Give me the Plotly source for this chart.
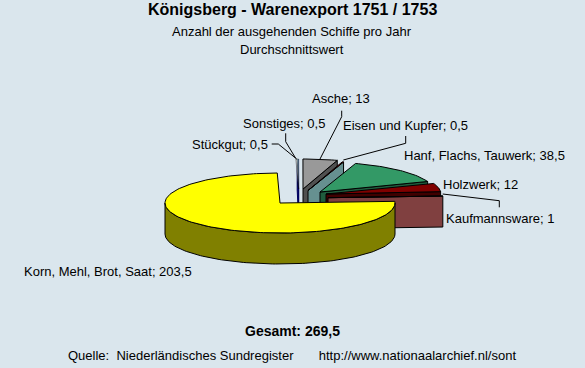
import math
import plotly.graph_objects as go

# Data
categories = ["Korn, Mehl, Brot, Saat", "Stückgut", "Sonstiges", "Asche", "Eisen und Kupfer",
              "Hanf, Flachs, Tauwerk", "Holzwerk", "Kaufmannsware"]
value_labels = ["203,5", "0,5", "0,5", "13", "0,5", "38,5", "12", "1"]
values = [203.5, 0.5, 0.5, 13, 0.5, 38.5, 12, 1]
total_label = "Gesamt: 269,5"

# Style and projection
BG = "#DAE6ED"
START = 86.8          # clockwise from north
RX, RY, DEPTH = 115, 30, 31
tops = ["#FFFF00", "#FFFFFF", "#CCFFFF", "#999999", "#CC0000", "#339966", "#800000", "#000000"]
walls = ["#808000", "#000060", "#000060", "#505050", "#669090", "#1F5C3D", "#400000", "#804040"]
apex = [(280, 203), (298.6, 189), (298.6, 189), (303, 189), (308, 190.5), (320, 192), (326, 194), (328, 197.7)]
edge_width = [1, 0.4, 0.4, 1, 1, 1, 1, 1]
# painter's order: rear slices first, the big slice last
order = [1, 2, 3, 4, 5, 6, 7, 0]

total = sum(values)
ranges = []
a = START
for v in values:
    b = a + v / total * 360
    ranges.append((a, b))
    a = b

def rim(c, t):
    r = math.radians(t)
    return c[0] + RX * math.sin(r), c[1] - RY * math.cos(r)

def arc(c, t0, t1):
    n = max(2, int(abs(t1 - t0) / 1.5) + 2)
    return [rim(c, t0 + (t1 - t0) * i / (n - 1)) for i in range(n)]

fig = go.Figure()

def poly(pts, fill, w=1, color="#000000"):
    fig.add_trace(go.Scatter(x=[p[0] for p in pts] + [pts[0][0]], y=[p[1] for p in pts] + [pts[0][1]],
                             mode="lines", fill="toself", fillcolor=fill,
                             line=dict(color=color, width=w), hoverinfo="skip", showlegend=False))

for i in order:
    t0, t1 = ranges[i]
    c = apex[i]
    lo, hi = max(t0, 90), min(t1, 270)
    if hi > lo:
        top_edge = arc(c, lo, hi)
        poly(top_edge + [(x, y + DEPTH) for x, y in reversed(top_edge)], walls[i])
    if i != 0 and (t1 % 360 < 180 or t1 % 360 > 350):
        e = rim(c, t1)
        poly([c, e, (e[0], e[1] + DEPTH), (c[0], c[1] + DEPTH)], walls[i], 1, "#000000" if edge_width[i] == 1 else walls[i])
    poly([c] + arc(c, t0, t1), tops[i], edge_width[i])

# Leader lines
leaders = [
    [(341.7, 110.7), (341.7, 116.7), (320, 159)],
    [(285.7, 133.3), (285.7, 141.7), (295.7, 158.3)],
    [(271.7, 144), (278.3, 144), (296.7, 159)],
    [(405.7, 136), (405.7, 143.3), (343.3, 160)],
    [(442.7, 194), (499.3, 200.7), (499.3, 207.3)],
]
for l in leaders:
    fig.add_trace(go.Scatter(x=[p[0] for p in l], y=[p[1] for p in l], mode="lines",
                             line=dict(color="#000000", width=1), hoverinfo="skip", showlegend=False))

FONT = "Liberation Sans"
def text(x, y, s, anchor="left", size=13, bold=False):
    fig.add_annotation(x=x, y=y, text=f"<b>{s}</b>" if bold else s, showarrow=False,
                       xanchor=anchor, yanchor="middle",
                       font=dict(family=FONT, size=size, color="#000000"))

label_pos = {0: (22, 271), 1: (190, 144), 2: (241, 123), 3: (310, 98), 4: (341, 125),
             5: (402, 155), 6: (441, 184), 7: (444, 218)}
for i, (x, y) in label_pos.items():
    text(x, y, f"{categories[i]}; {value_labels[i]}")

text(292, 9, "Königsberg - Warenexport 1751 / 1753", "center", 16, True)
text(292, 31, "Anzahl der ausgehenden Schiffe pro Jahr", "center")
text(292, 49, "Durchschnittswert", "center")
text(292, 331, total_label, "center", 14, True)
text(292, 355, "Quelle:  Niederländisches Sundregister &nbsp;&nbsp;&nbsp;&nbsp;&nbsp; http://www.nationaalarchief.nl/sont", "center")

fig.update_layout(width=585, height=368, margin=dict(l=0, r=0, t=0, b=0),
                  paper_bgcolor=BG, plot_bgcolor=BG, showlegend=False,
                  xaxis=dict(range=[0, 585], visible=False, fixedrange=True),
                  yaxis=dict(range=[368, 0], visible=False, fixedrange=True))
fig.write_html("out.html", config=dict(displayModeBar=False),
               post_script="document.body.style.margin='0';document.documentElement.style.overflow='hidden';")
